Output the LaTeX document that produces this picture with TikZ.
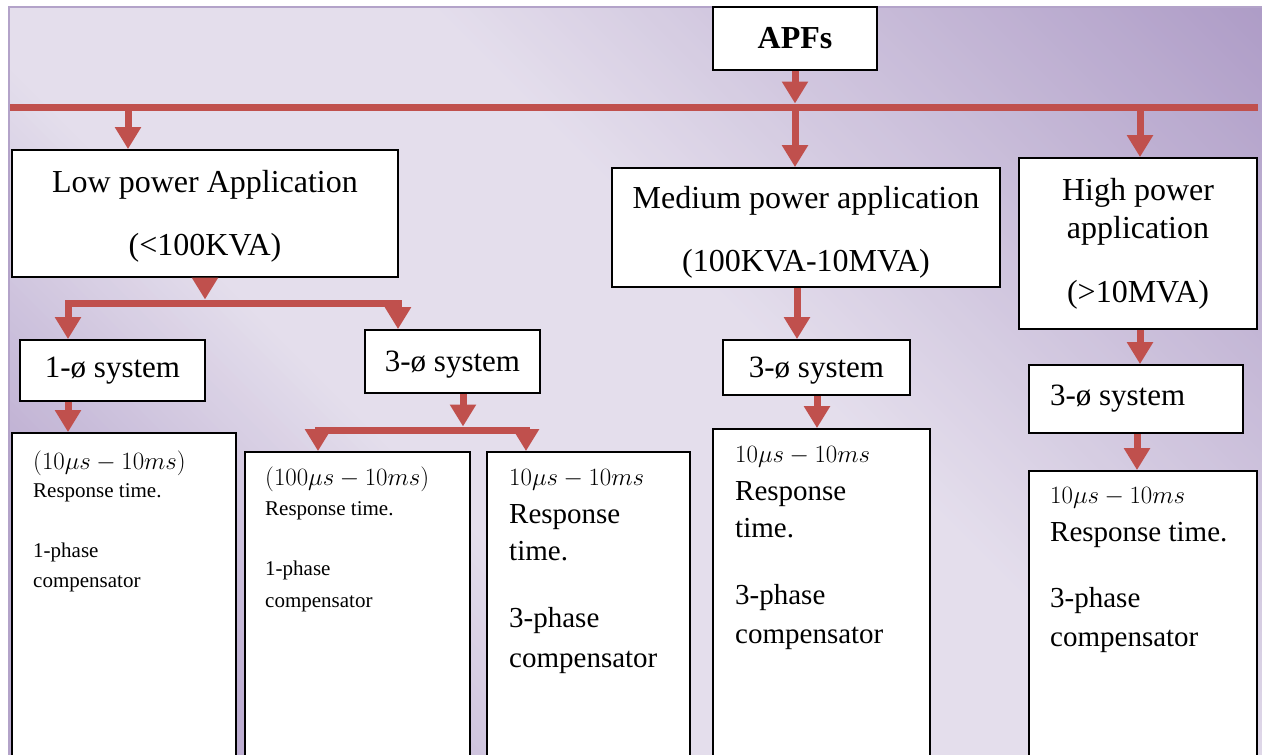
\documentclass[tikz,border=0pt]{standalone}
\usepackage{fontspec}
\setmainfont{Liberation Serif}
\usetikzlibrary{arrows.meta}
\definecolor{arrred}{HTML}{C0504D}
\definecolor{Lt}{HTML}{E4DEEC}
\definecolor{Dka}{HTML}{BCADD1}
\definecolor{Dkb}{HTML}{AD9BC6}
\definecolor{bordc}{HTML}{B3A3C9}
\begin{document}
\begin{tikzpicture}[x=1pt,y=-1pt,
  box/.style={draw=black, line width=1.8pt, fill=white, inner sep=0pt},
  arr/.style={draw=arrred, line width=7pt, -{Triangle[width=25pt,length=22pt]}},
  bar/.style={draw=arrred, line width=7pt, line cap=rect},
  mainbar/.style={draw=arrred, line width=7pt},
  hdr/.style={font=\fontsize{32}{63}\selectfont, align=center},
  sys/.style={font=\fontsize{31}{36}\selectfont},
  smalltxt/.style={font=\fontsize{21}{30}\selectfont, align=left, inner sep=0pt, anchor=north west},
  bigtxt/.style={font=\fontsize{29}{38}\selectfont, align=left, inner sep=0pt, anchor=north west}]
\useasboundingbox (0,0) rectangle (1262,755);
\fill[white] (0,0) rectangle (1262,755);
% background gradient
\begin{scope}
\clip (9,7) rectangle (1262,755);
\foreach \p in {-770,-760,...,1270}{
  \pgfmathsetmacro\ta{100*max(0,min(1,(\p+480)/420))}
  \pgfmathsetmacro\tb{100*max(0,min(1,(\p-420)/842))}
  \colorlet{cA}{Lt!\ta!Dka}
  \colorlet{cB}{Dkb!\tb!cA}
  \fill[cB] (\p-100,-100) -- (\p+900,900) -- (\p+913,900) -- (\p-87,-100) -- cycle;
}
\end{scope}
\draw[bordc, line width=2pt] (9,755) -- (9,7) -- (1262,7);

% boxes
\node[box, minimum width=164pt, minimum height=63pt, font=\fontsize{32}{36}\selectfont\bfseries] (apf) at (795,38.5) {APFs};
\node[box, hdr, minimum width=386pt, minimum height=127pt] (low) at (205,213.5) {\rule{0pt}{28pt}Low power Application\\(<100KVA)};
\node[box, hdr, minimum width=388pt, minimum height=119pt] (med) at (806,227.5) {\rule{0pt}{32pt}Medium power application\\(100KVA-10MVA)};
\node[box, font=\fontsize{32}{38}\selectfont, align=center, minimum width=238pt, minimum height=171pt] (high) at (1138,243.5) {High power\\application\\[26pt](>10MVA)};

\node[box, sys, minimum width=185pt, minimum height=61pt] (one) at (112.5,370.5) {1-ø system};
\node[box, sys, minimum width=175pt, minimum height=63pt] (thL) at (452.5,361.5) {\rule{0pt}{26pt}3-ø system};
\node[box, sys, minimum width=187pt, minimum height=55pt] (thM) at (816.5,367.5) {\rule{0pt}{26pt}3-ø system};
\node[box, sys, minimum width=214pt, minimum height=68pt] (thH) at (1136,399) {\makebox[172pt][l]{3-ø system}};

\node[box, minimum width=224pt, minimum height=332pt] (d1) at (124,599) {};
\node[box, minimum width=225pt, minimum height=313pt] (d2) at (357.5,608.5) {};
\node[box, minimum width=203pt, minimum height=313pt] (d3) at (588.5,608.5) {};
\node[box, minimum width=217pt, minimum height=336pt] (dM) at (821.5,597) {};
\node[box, minimum width=228pt, minimum height=294pt] (dH) at (1143,618) {};

% texts of detail boxes
\node[smalltxt] (t1) at (33,449) {\rule{0pt}{20pt}{\fontsize{24}{24}\selectfont$(10\mu s-10ms)$}\\[-2pt]Response time.\\[30pt]1-phase\\compensator};
\node[smalltxt] (t2) at (265,465) {\rule{0pt}{20pt}{\fontsize{24}{24}\selectfont$(100\mu s-10ms)$}\\Response time.\\[30pt]1-phase\\[2pt]compensator};
\node[bigtxt] (t3) at (509,465) {\rule{0pt}{20pt}{\fontsize{24}{24}\selectfont$10\mu s-10ms$}\\Response\\[-1pt]time.\\[29pt]3-phase\\[2pt]compensator};
\node[bigtxt] (tM) at (735,442) {\rule{0pt}{20pt}{\fontsize{24}{24}\selectfont$10\mu s-10ms$}\\Response\\[-1pt]time.\\[29pt]3-phase\\[1pt]compensator};
\node[bigtxt] (tH) at (1050,483) {\rule{0pt}{20pt}{\fontsize{24}{24}\selectfont$10\mu s-10ms$}\\Response time.\\[28pt]3-phase\\[1pt]compensator};

% main bar and junctions
\coordinate (barL) at (10,107);
\coordinate (barR) at (1258,107);
\coordinate (jA) at (795,103.5);
\coordinate (jLow) at (128,107);
\coordinate (jMed) at (795,107);
\coordinate (jHigh) at (1140,107);
\draw[mainbar] (barL) -- (barR);
\draw[arr] (apf.south) -- (jA);
\draw[arr] (jLow) -- (jLow |- low.north);
\draw[arr] (jMed) -- (jMed |- med.north);
\draw[arr] (jHigh) -- (jHigh |- high.north);

% low power branch
\coordinate (sbM) at (205,299.5);
\coordinate (sbL) at (68,303);
\coordinate (sbR) at (398,303);
\draw[arr] (low.south) -- (sbM);
\draw[bar] (sbL) -- (sbR);
\draw[arr] (sbL) -- (sbL |- one.north);
\draw[arr] (sbR) -- (sbR |- thL.north);
\draw[arr] (sbL |- one.south) -- (sbL |- d1.north);

\coordinate (tbM) at (463,426.5);
\coordinate (tbL) at (318,430);
\coordinate (tbR) at (526,430);
\draw[arr] (tbM |- thL.south) -- (tbM);
\draw[bar] (tbL) -- (tbR);
\draw[arr] (tbL) -- (tbL |- d2.north);
\draw[arr] (tbR) -- (tbR |- d3.north);

% medium branch
\coordinate (gM1) at (797,0);
\coordinate (gM2) at (817,0);
\draw[arr] (gM1 |- med.south) -- (gM1 |- thM.north);
\draw[arr] (gM2 |- thM.south) -- (gM2 |- dM.north);

% high branch
\coordinate (gH1) at (1140,0);
\coordinate (gH2) at (1137,0);
\draw[arr] (gH1 |- high.south) -- (gH1 |- thH.north);
\draw[arr] (gH2 |- thH.south) -- (gH2 |- dH.north);
\end{tikzpicture}
\end{document}
